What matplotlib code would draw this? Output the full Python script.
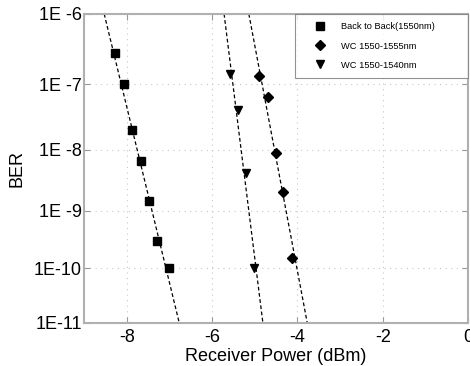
import math
import numpy as np
import matplotlib
matplotlib.use("Agg")
import matplotlib.pyplot as plt

plt.rcParams["font.family"] = ["Liberation Sans", "DejaVu Sans"]
plt.rcParams["axes.unicode_minus"] = False

# measured points
b2b_x = [-8.28, -8.07, -7.88, -7.67, -7.49, -7.30, -7.00]
b2b_ber = [2.9e-7, 1.0e-7, 2.05e-8, 6.6e-9, 1.47e-9, 3.0e-10, 1.0e-10]
wc55_x = [-4.91, -4.70, -4.51, -4.33, -4.12]
wc55_ber = [1.33e-7, 6.5e-8, 8.9e-9, 2.1e-9, 1.54e-10]
wc40_x = [-5.58, -5.40, -5.21, -5.02]
wc40_ber = [1.43e-7, 4.15e-8, 4.25e-9, 1.0e-10]

# fitted lines (endpoints)
fit_b2b_x = [-8.53, -6.77]
fit_wc55_x = [-5.14, -3.77]
fit_wc40_x = [-5.72, -4.81]
fit_ber = [1e-6, 1e-11]

yticks = [1e-6, 1e-7, 1e-8, 1e-9, 1e-10, 1e-11]
ylabels = ['1E -6', '1E -7', '1E -8', '1E -9', '1E-10', '1E-11']
xticks = [-8, -6, -4, -2, 0]

_erfc = np.vectorize(math.erfc, otypes=[float])


def ber_to_q(ber):
    ber = np.asarray(ber, dtype=float)
    b = np.clip(np.nan_to_num(ber, nan=1e-6), 1e-300, 0.4999)
    lo = np.zeros_like(b)
    hi = np.full_like(b, 40.0)
    for _ in range(70):
        mid = 0.5 * (lo + hi)
        val = 0.5 * _erfc(mid / math.sqrt(2))
        big = val > b
        lo = np.where(big, mid, lo)
        hi = np.where(big, hi, mid)
    return 0.5 * (lo + hi)


def forward(ber):
    return -ber_to_q(ber)


def inverse(y):
    y = np.asarray(y, dtype=float)
    return 0.5 * _erfc(-y / math.sqrt(2))


fig = plt.figure(figsize=(4.7, 3.66), dpi=100)
ax = fig.add_axes([0.179, 0.1175, 0.817, 0.8445])
ax.set_yscale('function', functions=(forward, inverse))

ax.plot(fit_b2b_x, fit_ber, 'k--', lw=0.9, dashes=(3, 2))
ax.plot(fit_wc55_x, fit_ber, 'k--', lw=0.9, dashes=(3, 2))
ax.plot(fit_wc40_x, fit_ber, 'k--', lw=0.9, dashes=(3, 2))
ax.plot(b2b_x, b2b_ber, 's', color='k', ms=5.5, label='Back to Back(1550nm)')
ax.plot(wc55_x, wc55_ber, 'D', color='k', ms=5, label='WC 1550-1555nm')
ax.plot(wc40_x, wc40_ber, 'v', color='k', ms=6, label='WC 1550-1540nm')

ax.set_xlim(-9, 0)
ax.set_ylim(1e-11, 1e-6)
ax.set_xticks(xticks)
ax.set_xticklabels([str(v) for v in xticks])
ax.set_yticks(yticks)
ax.set_yticklabels(ylabels)
ax.yaxis.set_minor_locator(matplotlib.ticker.NullLocator())
ax.tick_params(direction='in', labelsize=13, top=True, right=True,
               color='#999999', length=4)
ax.tick_params(axis='x', pad=4.5)
ax.tick_params(axis='y', pad=1.5)
ax.grid(True, linestyle=(0, (1, 4)), color='#c8c8c8', lw=0.8)
for s in ax.spines.values():
    s.set_color('#b0b0b0')
    s.set_linewidth(1.5)

ax.set_xlabel('Receiver Power (dBm)', fontsize=13, labelpad=1)
ax.set_ylabel('BER', fontsize=13, labelpad=6)

leg = ax.legend(loc='upper left', bbox_to_anchor=(0.549, 0.809, 0.451, 0.191),
                mode='expand', fontsize=6.7, frameon=True, fancybox=False,
                edgecolor='#777777', borderaxespad=0, handlelength=3.5,
                handletextpad=0.6, borderpad=0.9, labelspacing=1.1)
leg.get_frame().set_linewidth(0.8)

fig.savefig('out.png', dpi=100)
